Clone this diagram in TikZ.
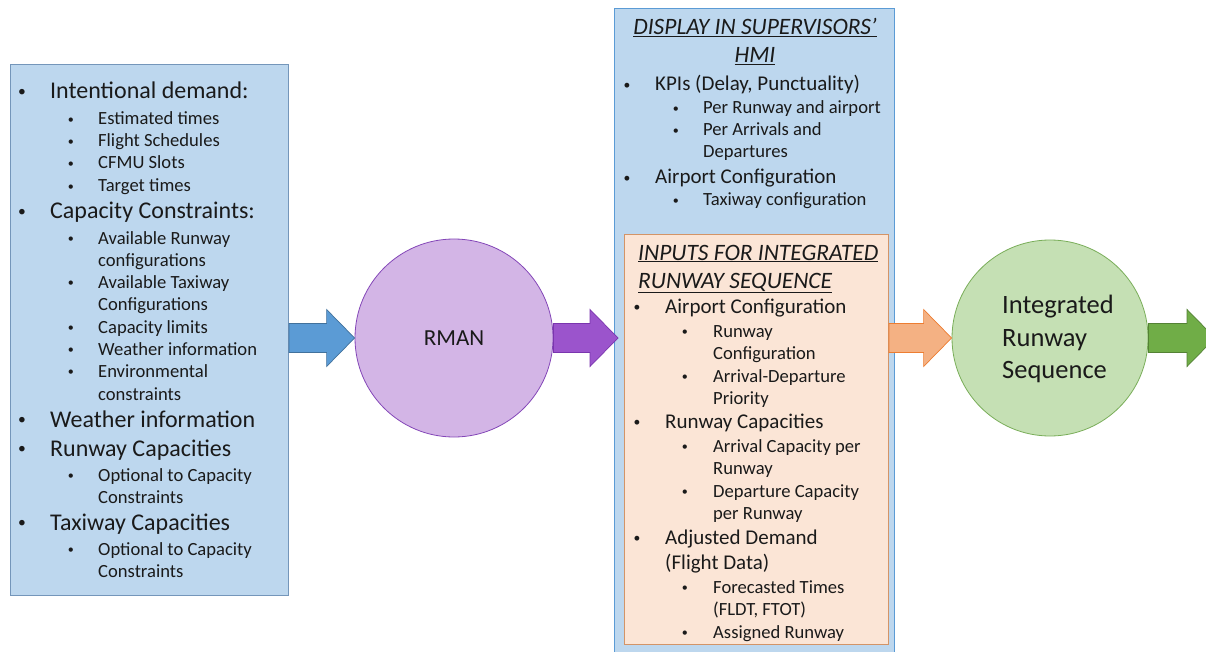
\documentclass[tikz,border=0pt]{standalone}
\usepackage{graphicx}
\usepackage{fontspec}
\setmainfont{Carlito}
\usetikzlibrary{calc}

\definecolor{inFill}{HTML}{BDD7EE}
\definecolor{inDraw}{HTML}{7496BA}
\definecolor{supDraw}{HTML}{5B9BD5}
\definecolor{blueArr}{HTML}{5B9BD5}
\definecolor{blueArrDraw}{HTML}{41719C}
\definecolor{rmanFill}{HTML}{D3B5E6}
\definecolor{rmanDraw}{HTML}{8447B8}
\definecolor{purpArr}{HTML}{9B54CC}
\definecolor{purpArrDraw}{HTML}{7A35AE}
\definecolor{orFill}{HTML}{FBE5D6}
\definecolor{orDraw}{HTML}{D39467}
\definecolor{orArr}{HTML}{F4B183}
\definecolor{orArrDraw}{HTML}{ED7D31}
\definecolor{grFill}{HTML}{C5E0B4}
\definecolor{grDraw}{HTML}{7AAE5A}
\definecolor{grArr}{HTML}{70AD47}
\definecolor{grArrDraw}{HTML}{548235}
\definecolor{ink}{HTML}{1A1A1A}

% list bullet in a box of width #1
\newcommand\bul[1]{\makebox[#1][l]{\hspace{-1pt}\raisebox{0.09em}{\scalebox{0.65}{•}}}}

% block arrow: #1 style, #2 start point, #3 tip point (shaft 29, head 57 x 28)
\newcommand\blockarrow[3]{%
  \path[#1] let \p1=#2, \p2=#3 in
    (\x1,\y1+14.5pt) -- (\x2-28pt,\y1+14.5pt) -- (\x2-28pt,\y1+28.5pt) --
    (\x2,\y1) -- (\x2-28pt,\y1-28.5pt) -- (\x2-28pt,\y1-14.5pt) --
    (\x1,\y1-14.5pt) -- cycle;}

\tikzset{
  panel/.style={anchor=north west, inner sep=0, line width=1pt},
  mainL/.style={anchor=base west, inner sep=0, text=ink, font=\fontsize{24}{29}\selectfont},
  subL/.style={anchor=base west, inner sep=0, text=ink, font=\fontsize{18.6}{22}\selectfont},
  mainR/.style={anchor=base west, inner sep=0, text=ink, font=\fontsize{21}{25}\selectfont},
  headR/.style={inner sep=0, text=ink, font=\fontsize{23.5}{28}\selectfont\itshape},
  disc/.style={circle, inner sep=0, line width=0.8pt},
}

\begin{document}
\begin{tikzpicture}[x=1pt,y=-1pt]
\clip (0,0) rectangle (1206,652);
\fill[white] (0,0) rectangle (1206,652);

% ---------- input panel ----------
\node[panel, draw=inDraw, fill=inFill, minimum width=278, minimum height=531] (inbox) at (10,64) {};

\node[mainL] (l1)  at (19,99)    {\bul{31pt}Intentional demand:};
\node[subL]  (l2)  at (68.7,125) {\bul{29.3pt}Estimated times};
\node[subL]  (l3)  at (68.7,147) {\bul{29.3pt}Flight Schedules};
\node[subL]  (l4)  at (68.7,169) {\bul{29.3pt}CFMU Slots};
\node[subL]  (l5)  at (68.7,192) {\bul{29.3pt}Target times};
\node[mainL] (l6)  at (19,219)   {\bul{31pt}Capacity Constraints:};
\node[subL]  (l7)  at (68.7,244) {\bul{29.3pt}Available Runway};
\node[subL]  (l8)  at (98,266)   {configurations};
\node[subL]  (l9)  at (68.7,288) {\bul{29.3pt}Available Taxiway};
\node[subL]  (l10) at (98,310)   {Configurations};
\node[subL]  (l11) at (68.7,333) {\bul{29.3pt}Capacity limits};
\node[subL]  (l12) at (68.7,355) {\bul{29.3pt}Weather information};
\node[subL]  (l13) at (68.7,377) {\bul{29.3pt}Environmental};
\node[subL]  (l14) at (98,400)   {constraints};
\node[mainL] (l15) at (19,427)   {\bul{31pt}Weather information};
\node[mainL] (l16) at (19,456)   {\bul{31pt}Runway Capacities};
\node[subL]  (l17) at (68.7,481) {\bul{29.3pt}Optional to Capacity};
\node[subL]  (l18) at (98,503)   {Constraints};
\node[mainL] (l19) at (19,530)   {\bul{31pt}Taxiway Capacities};
\node[subL]  (l20) at (68.7,555) {\bul{29.3pt}Optional to Capacity};
\node[subL]  (l21) at (98,577)   {Constraints};

% ---------- RMAN ----------
\node[disc, draw=rmanDraw, fill=rmanFill, minimum size=198, text=ink,
      font=\fontsize{23}{27}\selectfont] (rman) at (454,338) {RMAN};

% ---------- supervisors' HMI panel ----------
\node[panel, draw=supDraw, fill=inFill, minimum width=280, minimum height=660] (sup) at (614,8) {};
\node[headR, anchor=base] (h1) at (755,35) {\underline{DISPLAY IN SUPERVISORS’}};
\node[headR, anchor=base] (h2) at (755,63) {\underline{HMI}};
\node[mainR] (s1) at (624.5,91)  {\bul{30.5pt}KPIs (Delay, Punctuality)};
\node[subL]  (s2) at (673.7,114) {\bul{29.3pt}Per Runway and airport};
\node[subL]  (s3) at (673.7,136) {\bul{29.3pt}Per Arrivals and};
\node[subL]  (s4) at (703,158)   {Departures};
\node[mainR] (s5) at (624.5,184) {\bul{30.5pt}Airport Configuration};
\node[subL]  (s6) at (673.7,206) {\bul{29.3pt}Taxiway configuration};

% ---------- inputs for the integrated runway sequence ----------
\node[panel, draw=orDraw, fill=orFill, minimum width=264, minimum height=410] (inp) at (624,234) {};
\node[headR, anchor=base west] (g1) at (638,260) {\underline{INPUTS FOR INTEGRATED}};
\node[headR, anchor=base west] (g2) at (638,288) {\underline{RUNWAY SEQUENCE}};
\node[mainR] (o1)  at (634.3,313) {\bul{30.7pt}Airport Configuration};
\node[subL]  (o2)  at (682.7,337) {\bul{30.3pt}Runway};
\node[subL]  (o3)  at (713,359)   {Configuration};
\node[subL]  (o4)  at (682.7,382) {\bul{30.3pt}Arrival-Departure};
\node[subL]  (o5)  at (713,404)   {Priority};
\node[mainR] (o6)  at (634.3,428) {\bul{30.7pt}Runway Capacities};
\node[subL]  (o7)  at (682.7,452) {\bul{30.3pt}Arrival Capacity per};
\node[subL]  (o8)  at (713,474)   {Runway};
\node[subL]  (o9)  at (682.7,497) {\bul{30.3pt}Departure Capacity};
\node[subL]  (o10) at (713,519)   {per Runway};
\node[mainR] (o11) at (634.3,544) {\bul{30.7pt}Adjusted Demand};
\node[mainR] (o12) at (665,569)   {(Flight Data)};
\node[subL]  (o13) at (682.7,593) {\bul{30.3pt}Forecasted Times};
\node[subL]  (o14) at (713,615)   {(FLDT, FTOT)};
\node[subL]  (o15) at (682.7,638) {\bul{30.3pt}Assigned Runway};

% ---------- integrated runway sequence ----------
\node[disc, draw=grDraw, fill=grFill, minimum size=196] (irs) at (1050,338) {};
\node[anchor=base west, inner sep=0, text=ink, font=\fontsize{26.5}{32}\selectfont] (irs1) at (1002,313) {Integrated};
\node[anchor=base west, inner sep=0, text=ink, font=\fontsize{26.5}{32}\selectfont] (irs2) at (1002,346) {Runway};
\node[anchor=base west, inner sep=0, text=ink, font=\fontsize{26.5}{32}\selectfont] (irs3) at (1002,378) {Sequence};

% ---------- block arrows ----------
\coordinate (out) at (1215,338);
\blockarrow{fill=blueArr, draw=blueArrDraw, line width=0.7pt}{(inbox.east |- rman.center)}{(rman.west)}
\blockarrow{fill=purpArr, draw=purpArrDraw, line width=0.7pt}{(rman.east)}{([xshift=4]sup.west |- rman.center)}
\blockarrow{fill=orArr, draw=orArrDraw, line width=0.7pt}{(inp.east |- irs.center)}{(irs.west)}
\blockarrow{fill=grArr, draw=grArrDraw, line width=0.7pt}{(irs.east)}{(out)}
\end{tikzpicture}
\end{document}
